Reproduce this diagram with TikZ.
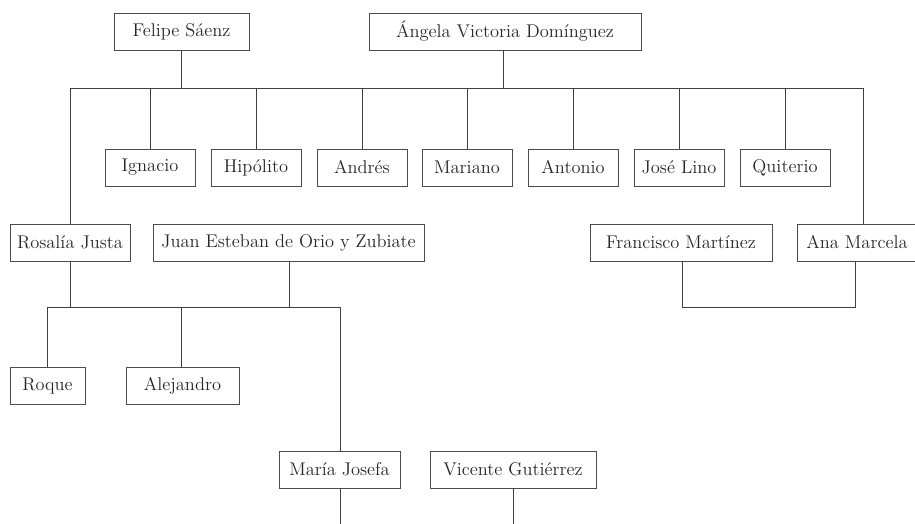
\documentclass[tikz,border=0pt]{standalone}
\begin{document}
\begin{tikzpicture}[x=0.75pt,y=-0.75pt,
  box/.style={draw=black!70, line width=0.65pt, minimum height=27.75pt, inner sep=0pt,
    font=\fontsize{13.8}{16}\selectfont, text=black!85},
  link/.style={draw=black!75, line width=0.65pt}]
\useasboundingbox (0,0) rectangle (915,524);
% generation 1
\node[box, minimum width=101.25pt] (felipe) at (181.5,31.5) {Felipe Sáenz};
\node[box, minimum width=204pt] (angela) at (505,31.5) {Ángela Victoria Domínguez};
% children
\node[box, minimum width=67.5pt] (ignacio) at (150,167.5) {Ignacio};
\node[box, minimum width=67.5pt] (hipolito) at (256,167.5) {Hipólito};
\node[box, minimum width=67.5pt] (andres) at (362,167.5) {Andrés};
\node[box, minimum width=67.5pt] (mariano) at (467,167.5) {Mariano};
\node[box, minimum width=67.5pt] (antonio) at (573,167.5) {Antonio};
\node[box, minimum width=67.5pt] (joselino) at (679,167.5) {José Lino};
\node[box, minimum width=67.5pt] (quiterio) at (785,167.5) {Quiterio};
\node[box, minimum width=90pt] (rosalia) at (70,242.5) {Rosalía Justa};
\node[box, minimum width=203.25pt] (juan) at (288.5,242.5) {Juan Esteban de Orio y Zubiate};
\node[box, minimum width=136.5pt] (francisco) at (681,242.5) {Francisco Martínez};
\node[box, minimum width=90pt] (ana) at (857,242.5) {Ana Marcela};
% grandchildren
\node[box, minimum width=56.25pt] (roque) at (47.5,386) {Roque};
\node[box, minimum width=84.75pt] (alejandro) at (182.5,386) {Alejandro};
\node[box, minimum width=90.75pt] (maria) at (339.5,469.5) {María Josefa};
\node[box, minimum width=124.5pt] (vicente) at (513,469.5) {Vicente Gutiérrez};
% coordinates
\coordinate (barL) at (70,88);
\coordinate (barR) at (863,88);
\coordinate (bar2L) at (47,307);
\coordinate (bar2R) at (340,307);
\coordinate (fmL) at (682,307);
\coordinate (fmR) at (855,307);
\coordinate (mEnd) at (340,524);
\coordinate (vEnd) at (513,524);
% top family
\draw[link] (barL) -- (barR);
\draw[link] (felipe.south) -- (felipe.south |- barL);
\draw[link] (angela.south -| 503,0) -- (503,88);
\foreach \c in {ignacio,hipolito,andres,mariano,antonio,joselino,quiterio}
  \draw[link] (\c.north) -- (\c.north |- barL);
\draw[link] (barL) -- (rosalia.north);
\draw[link] (barR) -- (barR |- ana.north);
% second family
\draw[link] (rosalia.south) -- (rosalia.south |- bar2L);
\draw[link] (juan.south -| 289,0) -- (289,307);
\draw[link] (bar2L) -- (bar2R);
\draw[link] (bar2L) -- (roque.north -| bar2L);
\draw[link] (alejandro.north -| 181,0) -- (181,307);
\draw[link] (bar2R) -- (maria.north -| bar2R);
% Francisco - Ana
\draw[link] (francisco.south -| fmL) -- (fmL) -- (fmR) -- (ana.south -| fmR);
% bottom
\draw[link] (maria.south -| mEnd) -- (mEnd);
\draw[link] (vicente.south) -- (vEnd);
\end{tikzpicture}
\end{document}
